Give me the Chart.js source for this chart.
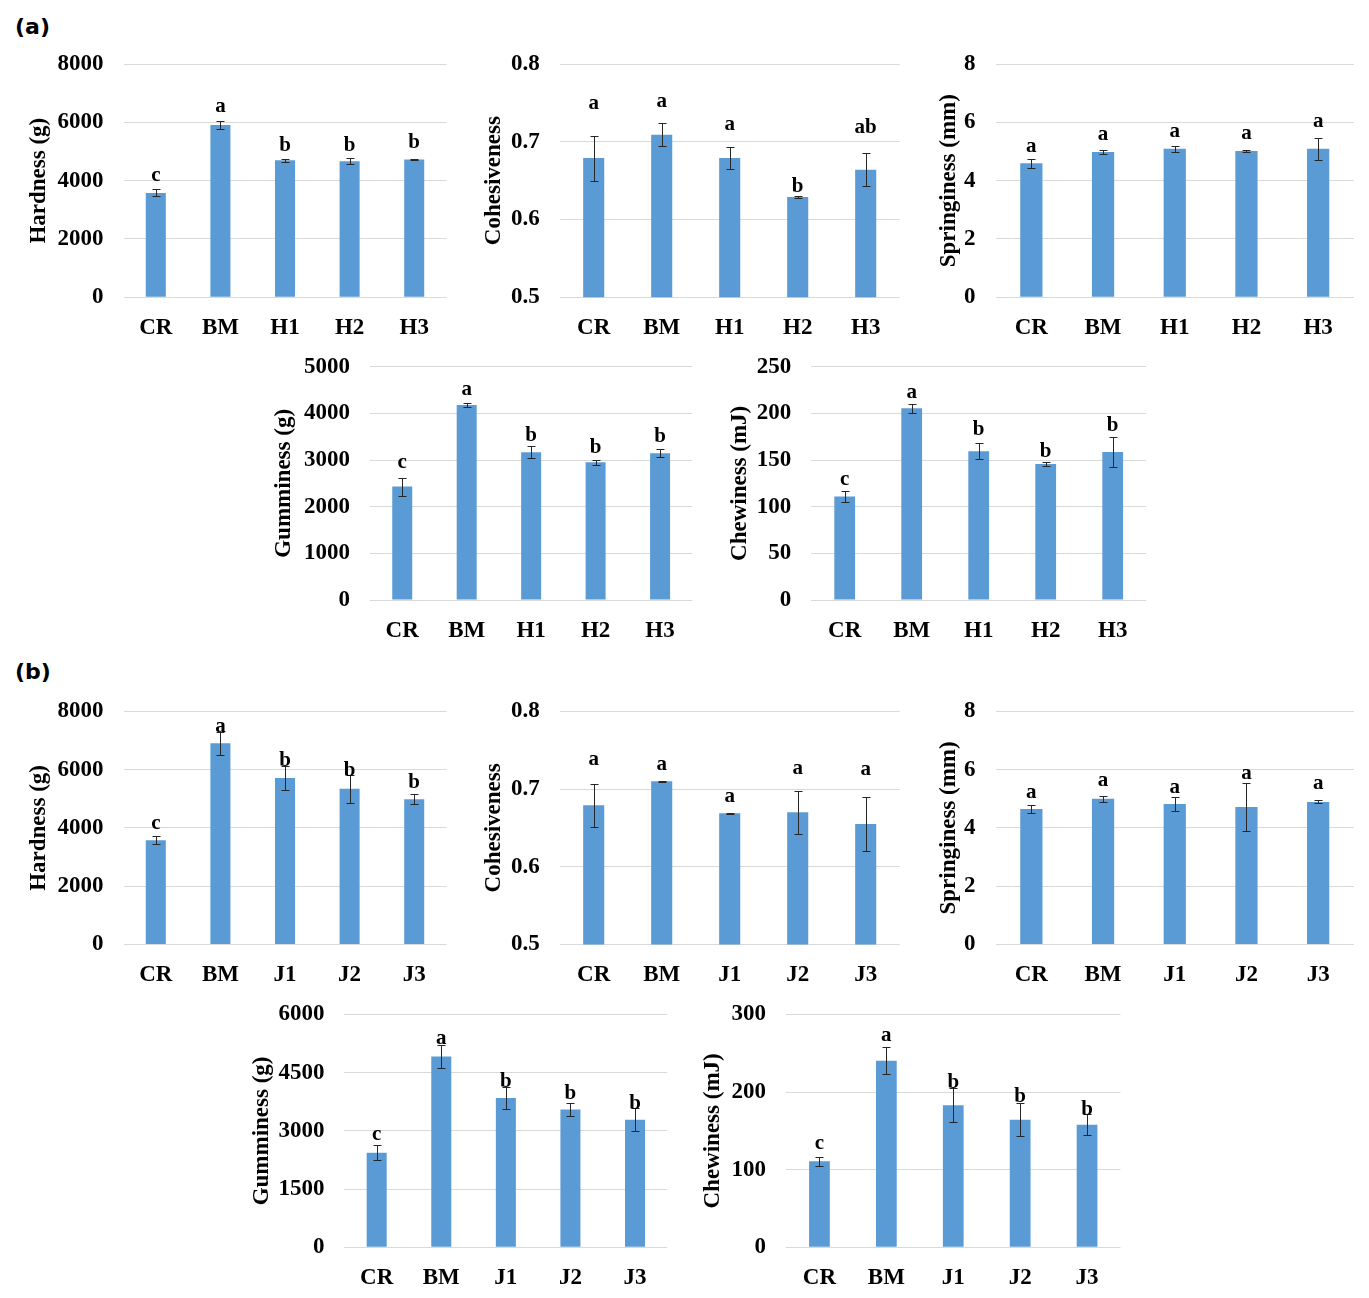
<!DOCTYPE html>
<html><head><meta charset="utf-8">
<script src="https://cdn.jsdelivr.net/npm/chart.js@4.4.1/dist/chart.umd.min.js"></script>
<style>
html,body{margin:0;padding:0;background:#fff;}
body{width:1369px;height:1298px;position:relative;overflow:hidden;}
canvas{position:absolute;}
.panel{position:absolute;font:bold 22px "DejaVu Sans",Arial,sans-serif;line-height:1;color:#000;}
</style></head><body>
<div class="panel" style="left:15px;top:16px">(a)</div>
<div class="panel" style="left:15px;top:661px">(b)</div>
<script>
// ---------- categories ----------
const catsA = ['CR','BM','H1','H2','H3'];
const catsB = ['CR','BM','J1','J2','J3'];

// ---------- tick labels ----------
const ticksHardness = [0,2000,4000,6000,8000];
const ticksCohesive = [0.5,0.6,0.7,0.8];
const ticksSpring   = [0,2,4,6,8];
const ticksGumA     = [0,1000,2000,3000,4000,5000];
const ticksChewA    = [0,50,100,150,200,250];
const ticksGumB     = [0,1500,3000,4500,6000];
const ticksChewB    = [0,100,200,300];

// ---------- (a) values ----------
const hardnessA      = [3580,5910,4700,4665,4725];
const hardnessAErr   = [120,140,50,110,20];
const hardnessALet   = ['c','a','b','b','b'];
const cohesiveA      = [0.679,0.709,0.679,0.629,0.664];
const cohesiveAErr   = [0.029,0.015,0.014,0.001,0.021];
const cohesiveALet   = ['a','a','a','b','ab'];
const springA        = [4.60,4.98,5.09,5.02,5.09];
const springAErr     = [0.15,0.07,0.10,0.03,0.38];
const springALet     = ['a','a','a','a','a'];
const gumA           = [2430,4180,3165,2950,3145];
const gumAErr        = [195,50,125,60,85];
const gumALet        = ['c','a','b','b','b'];
const chewA          = [111,205.5,159.5,145.7,158.5];
const chewAErr       = [6,5,8.5,2,16.5];
const chewALet       = ['c','a','b','b','b'];

// ---------- (b) values ----------
const hardnessB      = [3580,6900,5715,5340,4985];
const hardnessBErr   = [125,400,420,470,170];
const hardnessBLet   = ['c','a','b','b','b'];
const cohesiveB      = [0.679,0.710,0.669,0.670,0.655];
const cohesiveBErr   = [0.028,0.0005,0.0005,0.028,0.035];
const cohesiveBLet   = ['a','a','a','a','a'];
const springB        = [4.65,5.00,4.82,4.72,4.89];
const springBErr     = [0.14,0.10,0.25,0.83,0.05];
const springBLet     = ['a','a','a','a','a'];
const gumB           = [2440,4920,3850,3550,3290];
const gumBErr        = [185,300,280,175,300];
const gumBLet        = ['c','a','b','b','b'];
const chewB          = [111,240.5,183,164.5,158];
const chewBErr       = [6,17,22,21,13.5];
const chewBLet       = ['c','a','b','b','b'];

// ---------- layout (pixel boxes & letter gaps) ----------
const FONT = '"Liberation Serif","Times New Roman",serif';
const BAR = '#5B9BD5';
const GRID = '#d9d9d9';

const specs = [
  {cats:catsA, v:hardnessA, e:hardnessAErr, l:hardnessALet, t:ticksHardness, title:'Hardness (g)',
   box:{L:123.5,R:446.5,T:64,B:297.3,TX:39}, gaps:[9,10,9,8,12]},
  {cats:catsA, v:cohesiveA, e:cohesiveAErr, l:cohesiveALet, t:ticksCohesive, title:'Cohesiveness', dec:1,
   box:{L:559.7,R:899.7,T:64,B:297.3,TX:493.3}, gaps:[28,17,18,5,21]},
  {cats:catsA, v:springA, e:springAErr, l:springALet, t:ticksSpring, title:'Springiness (mm)',
   box:{L:995.5,R:1354,T:64,B:297.3,TX:948.3}, gaps:[8,11,10,12,12]},
  {cats:catsA, v:gumA, e:gumAErr, l:gumALet, t:ticksGumA, title:'Gumminess (g)',
   box:{L:370,R:692.3,T:366.7,B:600,TX:284}, gaps:[11,9,6,8,8]},
  {cats:catsA, v:chewA, e:chewAErr, l:chewALet, t:ticksChewA, title:'Chewiness (mJ)',
   box:{L:811.2,R:1146.2,T:366.7,B:600,TX:740}, gaps:[7,7,9,6,7]},
  {cats:catsB, v:hardnessB, e:hardnessBErr, l:hardnessBLet, t:ticksHardness, title:'Hardness (g)',
   box:{L:123.5,R:446.5,T:711.3,B:944.5,TX:39}, gaps:[8,1,1,0,7]},
  {cats:catsB, v:cohesiveB, e:cohesiveBErr, l:cohesiveBLet, t:ticksCohesive, title:'Cohesiveness', dec:1,
   box:{L:559.7,R:899.7,T:711.3,B:944.5,TX:493.3}, gaps:[20,12,12,18,23]},
  {cats:catsB, v:springB, e:springBErr, l:springBLet, t:ticksSpring, title:'Springiness (mm)',
   box:{L:995.5,R:1354,T:711.3,B:944.5,TX:948.3}, gaps:[8,11,5,5,12]},
  {cats:catsB, v:gumB, e:gumBErr, l:gumBLet, t:ticksGumB, title:'Gumminess (g)',
   box:{L:344.4,R:667.3,T:1014.5,B:1247.3,TX:261.7}, gaps:[6,2,1,5,0]},
  {cats:catsB, v:chewB, e:chewBErr, l:chewBLet, t:ticksChewB, title:'Chewiness (mJ)',
   box:{L:786,R:1120.5,T:1014.5,B:1247.3,TX:712.5}, gaps:[9,7,1,2,0]}
];

const TITLE_SIZE = 23, TICK_SIZE = 23, LETTER_SIZE = 21;
const TOP_ROOM = 44;

function makeChart(s, idx) {
  const b = s.box;
  const left = Math.round(b.TX - TITLE_SIZE*1.2/2);
  const top = Math.round(b.T) - TOP_ROOM;
  const width = Math.ceil(b.R - left) + 4;
  const height = Math.round(b.B - top) + 48;
  const yW = b.L - left;
  const padTop = b.T - top;
  const padRight = width - (b.R - left);
  const xH = height - (b.B - top);
  const cv = document.createElement('canvas');
  cv.width = width; cv.height = height;
  cv.style.left = left + 'px'; cv.style.top = top + 'px';
  cv.style.width = width + 'px'; cv.style.height = height + 'px';
  document.body.appendChild(cv);

  const errPlugin = {
    id: 'errLetters' + idx,
    afterDatasetsDraw(chart) {
      const ctx = chart.ctx;
      const meta = chart.getDatasetMeta(0);
      const ys = chart.scales.y;
      ctx.save();
      ctx.strokeStyle = '#262626';
      ctx.lineWidth = 1;
      meta.data.forEach((bar, i) => {
        const v = s.v[i], e = s.e[i];
        const x = Math.round(bar.x) + 0.5;
        const yT = Math.round(ys.getPixelForValue(v + e)) + 0.5;
        const yB = Math.round(ys.getPixelForValue(v - e)) + 0.5;
        ctx.beginPath();
        ctx.moveTo(x, yT); ctx.lineTo(x, yB);
        ctx.moveTo(x - 4, yT); ctx.lineTo(x + 4, yT);
        ctx.moveTo(x - 4, yB); ctx.lineTo(x + 4, yB);
        ctx.stroke();
        ctx.fillStyle = '#000';
        ctx.font = 'bold ' + LETTER_SIZE + 'px ' + FONT;
        ctx.textAlign = 'center';
        ctx.textBaseline = 'alphabetic';
        ctx.fillText(s.l[i], bar.x, yT - s.gaps[i]);
      });
      ctx.restore();
    }
  };

  new Chart(cv, {
    type: 'bar',
    data: {
      labels: s.cats,
      datasets: [{data: s.v, backgroundColor: BAR, borderWidth: 0,
                  categoryPercentage: 1, barPercentage: 0.31}]
    },
    options: {
      responsive: false,
      animation: false,
      events: [],
      layout: {padding: {top: padTop, left: 0, right: padRight, bottom: 0}},
      plugins: {legend: {display: false}, tooltip: {enabled: false}},
      scales: {
        x: {
          offset: true,
          grid: {display: false},
          border: {display: false},
          ticks: {color: '#000', padding: 9, maxRotation: 0,
                  font: {family: FONT, size: TICK_SIZE, weight: 'bold'}},
          afterFit(sc) { sc.height = xH; }
        },
        y: {
          min: s.t[0], max: s.t[s.t.length - 1],
          afterBuildTicks(sc) { sc.ticks = s.t.map(v => ({value: v})); },
          grid: {color: GRID, lineWidth: 1, drawTicks: false},
          border: {display: false},
          ticks: {color: '#000', padding: 20,
                  font: {family: FONT, size: TICK_SIZE, weight: 'bold'},
                  callback: v => s.dec ? Number(v).toFixed(s.dec) : String(v)},
          title: {display: true, text: s.title, color: '#000', padding: 0,
                  font: {family: FONT, size: TITLE_SIZE, weight: 'bold'}},
          afterFit(sc) { sc.width = yW; }
        }
      }
    },
    plugins: [errPlugin]
  });
}
specs.forEach(makeChart);
</script>
</body></html>
